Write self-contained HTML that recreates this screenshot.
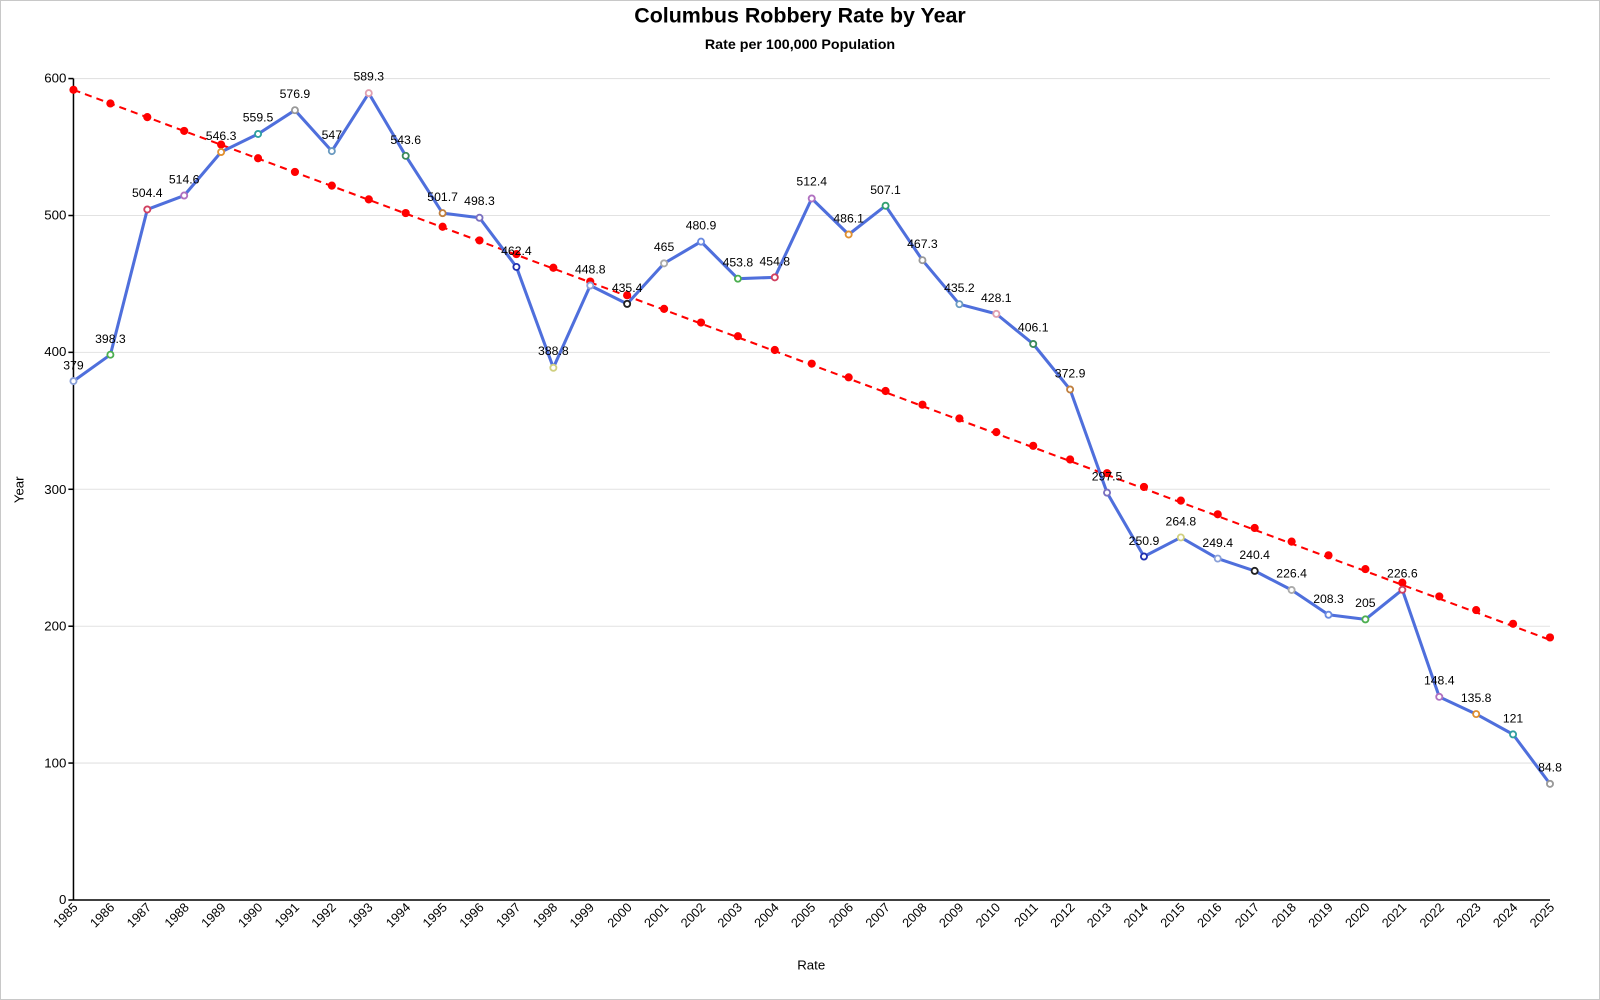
<!DOCTYPE html>
<html><head><meta charset="utf-8"><style>
html,body{margin:0;padding:0;background:#fff;}
svg{display:block;font-family:"Liberation Sans","DejaVu Sans",sans-serif;}
</style></head><body>
<svg width="1600" height="1000" viewBox="0 0 1600 1000" xmlns="http://www.w3.org/2000/svg">
<rect x="0.5" y="0.5" width="1599" height="999" fill="#fff" stroke="#c8c8c8"/>
<g transform="scale(1.0204)">
<text x="784" y="22" text-anchor="middle" font-size="21" font-weight="bold">Columbus Robbery Rate by Year</text>
<text x="784" y="48" text-anchor="middle" font-size="14" font-weight="bold">Rate per 100,000 Population</text>
<g stroke="#e2e2e2" stroke-width="1">
<line x1="72" x2="1519" y1="77" y2="77"/><line x1="72" x2="1519" y1="211.2" y2="211.2"/><line x1="72" x2="1519" y1="345.3" y2="345.3"/><line x1="72" x2="1519" y1="479.5" y2="479.5"/><line x1="72" x2="1519" y1="613.7" y2="613.7"/><line x1="72" x2="1519" y1="747.8" y2="747.8"/>
</g>
<g stroke="#000" stroke-width="1.5">
<line x1="72" y1="77" x2="72" y2="882"/><line x1="72" y1="882" x2="1519" y2="882"/>
<line x1="67" x2="72" y1="77" y2="77"/><line x1="67" x2="72" y1="211.2" y2="211.2"/><line x1="67" x2="72" y1="345.3" y2="345.3"/><line x1="67" x2="72" y1="479.5" y2="479.5"/><line x1="67" x2="72" y1="613.7" y2="613.7"/><line x1="67" x2="72" y1="747.8" y2="747.8"/><line x1="67" x2="72" y1="882" y2="882"/>
</g>
<g font-size="13" text-anchor="end">
<text x="65" y="81">600</text><text x="65" y="215">500</text><text x="65" y="349">400</text><text x="65" y="484">300</text><text x="65" y="618">200</text><text x="65" y="752">100</text><text x="65" y="886">0</text>
</g>
<text transform="translate(23,480) rotate(-90)" text-anchor="middle" font-size="13">Year</text>
<text x="795" y="950" text-anchor="middle" font-size="13">Rate</text>
<g font-size="12.5" text-anchor="end">
<text transform="translate(77,890) rotate(-45)">1985</text><text transform="translate(113,890) rotate(-45)">1986</text><text transform="translate(149,890) rotate(-45)">1987</text><text transform="translate(186,890) rotate(-45)">1988</text><text transform="translate(222,890) rotate(-45)">1989</text><text transform="translate(258,890) rotate(-45)">1990</text><text transform="translate(294,890) rotate(-45)">1991</text><text transform="translate(330,890) rotate(-45)">1992</text><text transform="translate(366,890) rotate(-45)">1993</text><text transform="translate(403,890) rotate(-45)">1994</text><text transform="translate(439,890) rotate(-45)">1995</text><text transform="translate(475,890) rotate(-45)">1996</text><text transform="translate(511,890) rotate(-45)">1997</text><text transform="translate(547,890) rotate(-45)">1998</text><text transform="translate(583,890) rotate(-45)">1999</text><text transform="translate(620,890) rotate(-45)">2000</text><text transform="translate(656,890) rotate(-45)">2001</text><text transform="translate(692,890) rotate(-45)">2002</text><text transform="translate(728,890) rotate(-45)">2003</text><text transform="translate(764,890) rotate(-45)">2004</text><text transform="translate(800,890) rotate(-45)">2005</text><text transform="translate(837,890) rotate(-45)">2006</text><text transform="translate(873,890) rotate(-45)">2007</text><text transform="translate(909,890) rotate(-45)">2008</text><text transform="translate(945,890) rotate(-45)">2009</text><text transform="translate(981,890) rotate(-45)">2010</text><text transform="translate(1018,890) rotate(-45)">2011</text><text transform="translate(1054,890) rotate(-45)">2012</text><text transform="translate(1090,890) rotate(-45)">2013</text><text transform="translate(1126,890) rotate(-45)">2014</text><text transform="translate(1162,890) rotate(-45)">2015</text><text transform="translate(1198,890) rotate(-45)">2016</text><text transform="translate(1235,890) rotate(-45)">2017</text><text transform="translate(1271,890) rotate(-45)">2018</text><text transform="translate(1307,890) rotate(-45)">2019</text><text transform="translate(1343,890) rotate(-45)">2020</text><text transform="translate(1379,890) rotate(-45)">2021</text><text transform="translate(1416,890) rotate(-45)">2022</text><text transform="translate(1452,890) rotate(-45)">2023</text><text transform="translate(1488,890) rotate(-45)">2024</text><text transform="translate(1524,890) rotate(-45)">2025</text>
</g>
<line x1="72" y1="88" x2="1519" y2="627.1" stroke="#f00" stroke-width="2" stroke-dasharray="7,5"/>
<polyline fill="none" stroke="#4f6fdc" stroke-width="3" stroke-linejoin="round" points="72,373.5 108.2,347.6 144.35,205.3 180.5,191.6 216.7,149 252.9,131.3 289.05,108 325.2,148.1 361.4,91.3 397.6,152.7 433.75,208.9 469.9,213.4 506.1,261.6 542.3,360.4 578.45,279.8 614.6,297.8 650.8,258.1 687,236.8 723.15,273.1 759.3,271.8 795.5,194.5 831.7,229.8 867.85,201.6 904,255 940.2,298.1 976.4,307.6 1012.55,337.1 1048.7,381.7 1084.9,482.8 1121.1,545.4 1157.25,526.7 1193.4,547.4 1229.6,559.5 1265.8,578.2 1301.95,602.5 1338.1,607 1374.3,578 1410.5,682.9 1446.65,699.8 1482.8,719.7 1519,768.2"/>
<g fill="#f00">
<circle cx="72" cy="88" r="4"/><circle cx="108.2" cy="101.4" r="4"/><circle cx="144.35" cy="114.8" r="4"/><circle cx="180.5" cy="128.3" r="4"/><circle cx="216.7" cy="141.7" r="4"/><circle cx="252.9" cy="155.1" r="4"/><circle cx="289.05" cy="168.5" r="4"/><circle cx="325.2" cy="181.9" r="4"/><circle cx="361.4" cy="195.4" r="4"/><circle cx="397.6" cy="208.8" r="4"/><circle cx="433.75" cy="222.2" r="4"/><circle cx="469.9" cy="235.6" r="4"/><circle cx="506.1" cy="249" r="4"/><circle cx="542.3" cy="262.4" r="4"/><circle cx="578.45" cy="275.9" r="4"/><circle cx="614.6" cy="289.3" r="4"/><circle cx="650.8" cy="302.7" r="4"/><circle cx="687" cy="316.1" r="4"/><circle cx="723.15" cy="329.5" r="4"/><circle cx="759.3" cy="343" r="4"/><circle cx="795.5" cy="356.4" r="4"/><circle cx="831.7" cy="369.8" r="4"/><circle cx="867.85" cy="383.2" r="4"/><circle cx="904" cy="396.6" r="4"/><circle cx="940.2" cy="410.1" r="4"/><circle cx="976.4" cy="423.5" r="4"/><circle cx="1012.55" cy="436.9" r="4"/><circle cx="1048.7" cy="450.3" r="4"/><circle cx="1084.9" cy="463.7" r="4"/><circle cx="1121.1" cy="477.2" r="4"/><circle cx="1157.25" cy="490.6" r="4"/><circle cx="1193.4" cy="504" r="4"/><circle cx="1229.6" cy="517.4" r="4"/><circle cx="1265.8" cy="530.8" r="4"/><circle cx="1301.95" cy="544.2" r="4"/><circle cx="1338.1" cy="557.7" r="4"/><circle cx="1374.3" cy="571.1" r="4"/><circle cx="1410.5" cy="584.5" r="4"/><circle cx="1446.65" cy="597.9" r="4"/><circle cx="1482.8" cy="611.3" r="4"/><circle cx="1519" cy="624.7" r="4"/>
</g>
<g fill="#fff" stroke-width="1.8">
<circle cx="72" cy="373.5" r="3" stroke="#8aa0d8"/><circle cx="108.2" cy="347.6" r="3" stroke="#4caf50"/><circle cx="144.35" cy="205.3" r="3" stroke="#d04060"/><circle cx="180.5" cy="191.6" r="3" stroke="#b070c0"/><circle cx="216.7" cy="149" r="3" stroke="#e09030"/><circle cx="252.9" cy="131.3" r="3" stroke="#30a0a0"/><circle cx="289.05" cy="108" r="3" stroke="#999"/><circle cx="325.2" cy="148.1" r="3" stroke="#6a9ac0"/><circle cx="361.4" cy="91.3" r="3" stroke="#e0a0b0"/><circle cx="397.6" cy="152.7" r="3" stroke="#3a8a5a"/><circle cx="433.75" cy="208.9" r="3" stroke="#c08040"/><circle cx="469.9" cy="213.4" r="3" stroke="#7a70c0"/><circle cx="506.1" cy="261.6" r="3" stroke="#2030b0"/><circle cx="542.3" cy="360.4" r="3" stroke="#d0d080"/><circle cx="578.45" cy="279.8" r="3" stroke="#8aa0d8"/><circle cx="614.6" cy="297.8" r="3" stroke="#222"/><circle cx="650.8" cy="258.1" r="3" stroke="#aaa"/><circle cx="687" cy="236.8" r="3" stroke="#6a8ae0"/><circle cx="723.15" cy="273.1" r="3" stroke="#4caf50"/><circle cx="759.3" cy="271.8" r="3" stroke="#d04060"/><circle cx="795.5" cy="194.5" r="3" stroke="#b070c0"/><circle cx="831.7" cy="229.8" r="3" stroke="#e09030"/><circle cx="867.85" cy="201.6" r="3" stroke="#30a070"/><circle cx="904" cy="255" r="3" stroke="#999"/><circle cx="940.2" cy="298.1" r="3" stroke="#6a9ac0"/><circle cx="976.4" cy="307.6" r="3" stroke="#e0a0b0"/><circle cx="1012.55" cy="337.1" r="3" stroke="#3a8a5a"/><circle cx="1048.7" cy="381.7" r="3" stroke="#c08040"/><circle cx="1084.9" cy="482.8" r="3" stroke="#7a70c0"/><circle cx="1121.1" cy="545.4" r="3" stroke="#2030b0"/><circle cx="1157.25" cy="526.7" r="3" stroke="#d0d080"/><circle cx="1193.4" cy="547.4" r="3" stroke="#8aa0d8"/><circle cx="1229.6" cy="559.5" r="3" stroke="#222"/><circle cx="1265.8" cy="578.2" r="3" stroke="#aaa"/><circle cx="1301.95" cy="602.5" r="3" stroke="#6a8ae0"/><circle cx="1338.1" cy="607" r="3" stroke="#4caf50"/><circle cx="1374.3" cy="578" r="3" stroke="#d04060"/><circle cx="1410.5" cy="682.9" r="3" stroke="#b070c0"/><circle cx="1446.65" cy="699.8" r="3" stroke="#e09030"/><circle cx="1482.8" cy="719.7" r="3" stroke="#30a0a0"/><circle cx="1519" cy="768.2" r="3" stroke="#999"/>
</g>
<g font-size="12" text-anchor="middle">
<text x="72" y="362">379</text><text x="108.2" y="336">398.3</text><text x="144.35" y="193">504.4</text><text x="180.5" y="180">514.6</text><text x="216.7" y="137">546.3</text><text x="252.9" y="119">559.5</text><text x="289.05" y="96">576.9</text><text x="325.2" y="136">547</text><text x="361.4" y="79">589.3</text><text x="397.6" y="141">543.6</text><text x="433.75" y="197">501.7</text><text x="469.9" y="201">498.3</text><text x="506.1" y="250">462.4</text><text x="542.3" y="348">388.8</text><text x="578.45" y="268">448.8</text><text x="614.6" y="286">435.4</text><text x="650.8" y="246">465</text><text x="687" y="225">480.9</text><text x="723.15" y="261">453.8</text><text x="759.3" y="260">454.8</text><text x="795.5" y="182">512.4</text><text x="831.7" y="218">486.1</text><text x="867.85" y="190">507.1</text><text x="904" y="243">467.3</text><text x="940.2" y="286">435.2</text><text x="976.4" y="296">428.1</text><text x="1012.55" y="325">406.1</text><text x="1048.7" y="370">372.9</text><text x="1084.9" y="471">297.5</text><text x="1121.1" y="534">250.9</text><text x="1157.25" y="515">264.8</text><text x="1193.4" y="536">249.4</text><text x="1229.6" y="548">240.4</text><text x="1265.8" y="566">226.4</text><text x="1301.95" y="591">208.3</text><text x="1338.1" y="595">205</text><text x="1374.3" y="566">226.6</text><text x="1410.5" y="671">148.4</text><text x="1446.65" y="688">135.8</text><text x="1482.8" y="708">121</text><text x="1519" y="756">84.8</text>
</g>
</g>
</svg>
</body></html>
